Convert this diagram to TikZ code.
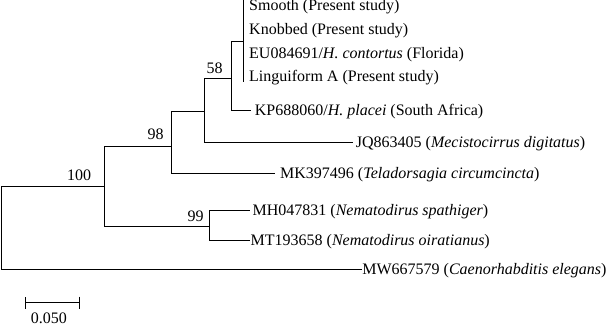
\documentclass[tikz,border=0pt]{standalone}
\usepackage{fontspec}
\setmainfont{Liberation Serif}
\usetikzlibrary{arrows.meta}
\begin{document}
\begin{tikzpicture}[x=1pt,y=-1pt,
  branch/.style={line width=1.1pt, draw=black},
  leaf/.style={anchor=west, inner ysep=0pt, inner xsep=#1, text height=13pt, text depth=3pt,
    font=\fontsize{16}{18}\selectfont},
  leaf/.default=2.5pt,
  boot/.style={anchor=base east, inner sep=0pt, font=\fontsize{16}{18}\selectfont},
  scalelbl/.style={anchor=base, inner sep=0pt, font=\fontsize{16}{18}\selectfont}]
\useasboundingbox (0,0) rectangle (609,326);
% internal nodes
\coordinate (root) at (1.5,228);
\coordinate (n100) at (104.5,186.5);
\coordinate (n98) at (171.5,146.5);
\coordinate (nA) at (204.5,111.5);
\coordinate (n58) at (231.5,78.5);
\coordinate (nC) at (243.5,41.5);
\coordinate (cTop) at (243.5,0.3);
\coordinate (cBot) at (243.5,81.7);
\coordinate (n99) at (209.5,226.5);
% leaves
\node[leaf=2pt] (smooth) at (247,6) {Smooth (Present study)};
\node[leaf=2pt] (knob) at (247,30) {Knobbed (Present study)};
\node[leaf=2pt] (eu) at (247,53.3) {EU084691/\textit{H. contortus} (Florida)};
\node[leaf=2pt] (ling) at (247,76.7) {Linguiform A (Present study)};
\node[leaf=4pt] (kp) at (250.7,110.5) {KP688060/\textit{H. placei} (South Africa)};
\node[leaf=3pt] (jq) at (352.7,142.5) {JQ863405 (\textit{Mecistocirrus digitatus})};
\node[leaf=5pt] (mk) at (275,173.5) {MK397496 (\textit{Teladorsagia circumcincta})};
\node[leaf=2.5pt] (mh) at (250,210.5) {MH047831 (\textit{Nematodirus spathiger})};
\node[leaf=0.5pt] (mt) at (250,240.5) {MT193658 (\textit{Nematodirus oiratianus})};
\node[leaf=0.5pt] (mw) at (361.7,269.5) {MW667579 (\textit{Caenorhabditis elegans})};
% branches
\draw[branch] (root) |- (n100);
\draw[branch] (root) |- (mw.west);
\draw[branch] (n100) |- (n98);
\draw[branch] (n100) |- (n99);
\draw[branch] (n98) |- (nA);
\draw[branch] (n98) |- (mk.west);
\draw[branch] (nA) |- (n58);
\draw[branch] (nA) |- (jq.west);
\draw[branch] (n58) |- (nC);
\draw[branch] (n58) |- (kp.west);
\draw[branch] (cTop) -- (cBot);
\draw[branch] (n99) |- (mh.west);
\draw[branch] (n99) |- (mt.west);
% bootstrap values
\node[boot] (b100) at (91.2,180) {100};
\node[boot] (b98) at (163.8,139.3) {98};
\node[boot] (b99) at (203.8,221.7) {99};
\node[boot] (b58) at (222.8,73.3) {58};
% scale bar
\coordinate (sL) at (25,302.5);
\coordinate (sR) at (79.7,302.5);
\draw[branch, {Bar[width=12pt]}-{Bar[width=12pt]}] (sL) -- (sR);
\node[scalelbl] (slbl) at (48.9,323.5) {0.050};
\end{tikzpicture}
\end{document}
